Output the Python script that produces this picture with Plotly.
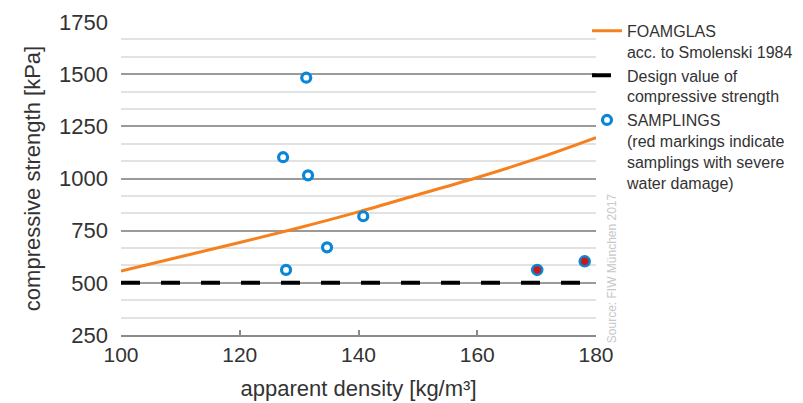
import plotly.graph_objects as go

# ---- data ----
curve_density = [100, 110, 120, 130, 140, 150, 160, 170, 180]
curve_strength = [557, 625, 693, 764, 840, 922, 1005, 1095, 1196]

design_density = [100, 180]
design_strength = [500, 500]

sample_density = [131.2, 127.3, 131.5, 140.8, 134.7, 127.8]
sample_strength = [1483, 1102, 1015, 819, 670, 562]

damaged_density = [170.1, 178.1]
damaged_strength = [562, 603]

y_ticks = [250, 500, 750, 1000, 1250, 1500, 1750]
x_ticks = [100, 120, 140, 160, 180]

BLUE = "#0b86d6"
ORANGE = "#f7801e"
FONT = "Liberation Sans, Arial, sans-serif"

fig = go.Figure()

fig.add_trace(go.Scatter(
    x=curve_density, y=curve_strength, mode="lines",
    line=dict(color=ORANGE, width=3, shape="spline"),
    name="FOAMGLAS<br>acc. to Smolenski 1984",
))
fig.add_trace(go.Scatter(
    x=design_density, y=design_strength, mode="lines",
    line=dict(color="black", width=4, dash="19px,21px"),
    name="Design value of<br>compressive strength",
))
fig.add_trace(go.Scatter(
    x=sample_density, y=sample_strength, mode="markers",
    marker=dict(symbol="circle", size=9, color="white",
                line=dict(color=BLUE, width=3.2)),
    name="SAMPLINGS<br>(red markings indicate<br>samplings with severe<br>water damage)",
))
fig.add_trace(go.Scatter(
    x=damaged_density, y=damaged_strength, mode="markers",
    marker=dict(symbol="circle", size=10, color="#c81a1a",
                line=dict(color=BLUE, width=2.5)),
    showlegend=False,
))

fig.update_layout(
    width=803, height=403,
    margin=dict(l=121, r=207, t=22, b=68, autoexpand=False),
    paper_bgcolor="white", plot_bgcolor="white",
    font=dict(family=FONT, color="#333333"),
    showlegend=True,
    legend=dict(
        x=0.981, y=1.026, xanchor="left", yanchor="top",
        font=dict(family=FONT, size=16, color="#333333"),
        valign="top", tracegroupgap=0, itemwidth=30,
        bgcolor="rgba(0,0,0,0)",
    ),
    xaxis=dict(
        range=[100, 180], tickvals=x_ticks, ticktext=[str(v) for v in x_ticks],
        showgrid=False, zeroline=False,
        showline=True, linecolor="#8a8a8a", linewidth=1.5,
        ticks="inside", ticklen=5, tickcolor="#8a8a8a", tickwidth=1.5,
        tickfont=dict(family=FONT, size=21, color="#333333"),
        title=dict(text="apparent density [kg/m³]",
                   font=dict(family=FONT, size=22, color="#333333"), standoff=16),
    ),
    yaxis=dict(
        range=[250, 1750], tickvals=y_ticks, ticktext=[str(v) for v in y_ticks],
        showgrid=True, gridcolor="#9a9a9a", gridwidth=1.8,
        zeroline=False, showline=False, ticks="", ticklabelstandoff=12,
        minor=dict(tick0=250, dtick=250 / 3, showgrid=True,
                   gridcolor="#e2e2e2", gridwidth=1.5),
        tickfont=dict(family=FONT, size=22, color="#333333"),
        title=dict(text="compressive strength [kPa]",
                   font=dict(family=FONT, size=22, color="#333333"), standoff=12),
    ),
    annotations=[dict(
        text="Source: FIW München 2017", textangle=-90,
        xref="paper", yref="paper", x=1.034, y=0.214,
        xanchor="center", yanchor="middle", showarrow=False,
        font=dict(family=FONT, size=12, color="#c8c8c8"),
    )],
)

fig.write_html("out.html")
